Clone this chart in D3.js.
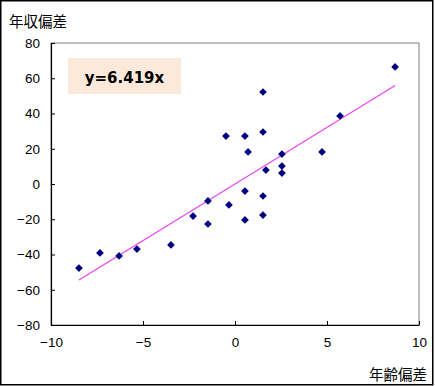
<!DOCTYPE html>
<html>
<head>
<meta charset="utf-8">
<script src="https://cdn.jsdelivr.net/npm/d3@7"></script>
<style>
  body { margin: 0; background: #fff; }
  text { font-family: "Noto Sans CJK JP", "Liberation Sans", sans-serif; }
</style>
</head>
<body>
<div class="chart"></div>
<script>
// age deviation vs income deviation
var ageDev = [-8.48, -7.34, -6.30, -5.33, -3.48, -2.28, -1.47, -1.47, -0.33, -0.49,
    0.54, 0.54, 0.54, 0.71, 1.52, 1.52, 1.52, 1.52, 1.68, 2.55,
    2.55, 2.55, 4.73, 5.71, 8.70];
var incomeDev = [-47.7, -39.1, -40.8, -36.9, -34.6, -18.2, -9.6, -22.7, -11.9, 27.2,
    27.2, -20.4, -4.0, 18.2, 52.2, 29.5, -6.8, -17.6, 7.9, 17.0,
    10.2, 6.2, 18.2, 38.6, 66.4];
var slope = 6.419;
var xTicks = [-10, -5, 0, 5, 10];
var yTicks = [-80, -60, -40, -20, 0, 20, 40, 60, 80];

var data = ageDev.map(function (d, i) { return { x: d, y: incomeDev[i] }; });

var W = 435, H = 386;
var margin = { top: 43, right: 16, bottom: 61, left: 51 },
    width = W - margin.left - margin.right,
    height = H - margin.top - margin.bottom;

var svg = d3.select(".chart").append("svg")
    .attr("width", W)
    .attr("height", H);

// outer frame
svg.append("rect")
    .attr("x", 0.75).attr("y", 0.75)
    .attr("width", W - 3).attr("height", H - 2)
    .attr("fill", "#fff")
    .attr("stroke", "#000")
    .attr("stroke-width", 1.5);

var g = svg.append("g")
    .attr("transform", "translate(" + margin.left + "," + margin.top + ")");

var x = d3.scaleLinear().domain([-10, 10]).range([0, width]);
var y = d3.scaleLinear().domain([-80, 80]).range([height, 0]);

// plot area border (grey top / right)
g.append("rect")
    .attr("x", 0).attr("y", 0)
    .attr("width", width).attr("height", height)
    .attr("fill", "#fff")
    .attr("stroke", "#808080")
    .attr("stroke-width", 1);

// axes, ticks pointing inward
var xAxis = g.append("g")
    .attr("transform", "translate(0," + height + ")")
    .call(d3.axisBottom(x).tickValues(xTicks).tickSizeInner(-4).tickSizeOuter(0)
        .tickPadding(12).tickFormat(function (d) { return String(d).replace("-", "\u2212"); }));
var yAxis = g.append("g")
    .call(d3.axisLeft(y).tickValues(yTicks).tickSizeInner(-4).tickSizeOuter(0)
        .tickPadding(12).tickFormat(function (d) { return String(d).replace("-", "\u2212"); }));

[xAxis, yAxis].forEach(function (a) {
    a.select(".domain").attr("stroke", "#000").attr("stroke-width", 1.2);
    a.selectAll(".tick line").attr("stroke", "#000");
    a.selectAll(".tick text")
        .attr("fill", "#000")
        .style("font-size", "13.5px")
        .style("font-family", "\"Liberation Sans\", sans-serif");
});
yAxis.selectAll(".tick text").attr("x", -11);

// trend line over data range
var xr = d3.extent(ageDev);
g.append("line")
    .attr("x1", x(xr[0])).attr("y1", y(slope * xr[0]))
    .attr("x2", x(xr[1])).attr("y2", y(slope * xr[1]))
    .attr("stroke", "#ee44ee")
    .attr("stroke-width", 1.2);

// diamond markers
g.selectAll(".pt")
    .data(data)
    .enter().append("path")
    .attr("class", "pt")
    .attr("d", d3.symbol().type(d3.symbolDiamond2).size(38))
    .attr("transform", function (d) { return "translate(" + x(d.x) + "," + y(d.y) + ")"; })
    .attr("fill", "#000080");

// equation label
svg.append("rect")
    .attr("x", 68).attr("y", 58)
    .attr("width", 113).attr("height", 36)
    .attr("fill", "#fde9d9");
svg.append("text")
    .attr("x", 124.5).attr("y", 83)
    .attr("text-anchor", "middle")
    .style("font-family", "\"DejaVu Sans\", sans-serif")
    .style("font-weight", "bold")
    .style("font-size", "15px")
    .text("y=" + slope + "x");

// axis titles
svg.append("text")
    .attr("x", 9).attr("y", 20)
    .attr("dominant-baseline", "central")
    .style("font-size", "14.5px")
    .text("年収偏差");
svg.append("text")
    .attr("x", 427).attr("y", 373.5)
    .attr("text-anchor", "end")
    .attr("dominant-baseline", "central")
    .style("font-size", "14.5px")
    .text("年齢偏差");
</script>
</body>
</html>
